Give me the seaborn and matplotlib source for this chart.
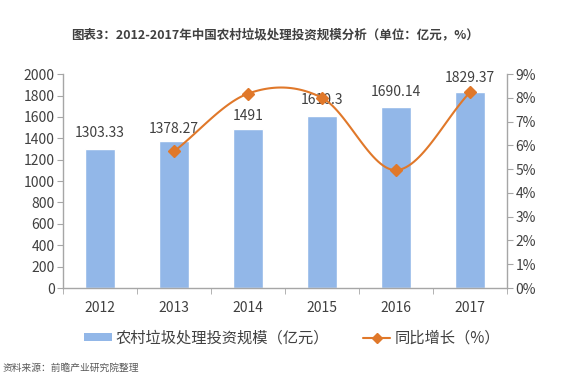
import numpy as np
import pandas as pd
import matplotlib
matplotlib.use('Agg')
import matplotlib.pyplot as plt
import seaborn as sns
from matplotlib.lines import Line2D
from matplotlib.patches import Patch

# data
years = ['2012', '2013', '2014', '2015', '2016', '2017']
invest = [1303.33, 1378.27, 1491, 1610.3, 1690.14, 1829.37]
growth_years = ['2013', '2014', '2015', '2016', '2017']
growth = [5.75, 8.18, 8.00, 4.96, 8.24]

title = '图表3：2012-2017年中国农村垃圾处理投资规模分析（单位：亿元，%）'
bar_name = '农村垃圾处理投资规模（亿元）'
line_name = '同比增长（%）'
source = '资料来源：前瞻产业研究院整理'

sns.set_style('white')
plt.rcParams['font.family'] = ['Noto Sans CJK SC', 'DejaVu Sans']

bar_color = '#92b7e8'
line_color = '#e0782a'
axis_color = '#a6a6a6'
text_color = '#404040'

df = pd.DataFrame({'year': years, 'invest': invest})

fig = plt.figure(figsize=(5.64, 3.84), dpi=100)
ax = fig.add_axes([0.112, 0.25, 0.787, 0.557])

sns.barplot(data=df, x='year', y='invest', color=bar_color, width=0.4,
            saturation=1, ax=ax)
ax.set_ylim(0, 2000)
ax.set_yticks(range(0, 2001, 200))
ax.set_xlabel('')
ax.set_ylabel('')

# value labels (offset in points above bar top)
label_off = [6, 3, 4, 6, 6, 5]
for i, v in enumerate(invest):
    ax.annotate(f'{v:g}', (i, v), xytext=(0, label_off[i]), textcoords='offset points',
                ha='center', va='bottom', fontsize=10, color=text_color)

# growth line on right axis, drawn smooth like the excel chart
ax2 = ax.twinx()
xs = np.array([years.index(y) for y in growth_years], dtype=float)
ys = np.array(growth)
# catmull-rom smoothing between the points
px = np.concatenate([[2 * xs[0] - xs[1]], xs, [2 * xs[-1] - xs[-2]]])
py = np.concatenate([[2 * ys[0] - ys[1]], ys, [2 * ys[-1] - ys[-2]]])
sx, sy = [], []
t = np.linspace(0, 1, 30)
for k in range(1, len(px) - 2):
    for arr, out in ((px, sx), (py, sy)):
        p0, p1, p2, p3 = arr[k - 1], arr[k], arr[k + 1], arr[k + 2]
        out.extend(0.5 * ((2 * p1) + (-p0 + p2) * t + (2 * p0 - 5 * p1 + 4 * p2 - p3) * t ** 2
                          + (-p0 + 3 * p1 - 3 * p2 + p3) * t ** 3))
ax2.plot(sx, sy, color=line_color, lw=1.5, zorder=3)
ax2.plot(xs, ys, ls='none', marker='D', ms=6, color=line_color, zorder=4)
ax2.set_ylim(0, 9)
ax2.set_yticks(range(0, 10))
ax2.set_yticklabels([f'{i}%' for i in range(0, 10)])

for a in (ax, ax2):
    for s in a.spines.values():
        s.set_visible(False)
    a.grid(False)
ax.spines['left'].set_visible(True)
ax.spines['bottom'].set_visible(True)
ax2.spines['right'].set_visible(True)
for s in (ax.spines['left'], ax.spines['bottom'], ax2.spines['right']):
    s.set_color(axis_color)
    s.set_linewidth(1)

ax.set_xlim(-0.5, 5.5)
ax.set_xticks(np.arange(-0.5, 6, 1), minor=True)
ax.tick_params(axis='y', direction='out', length=4, color=axis_color, labelsize=10,
               labelcolor=text_color, pad=2, left=True)
ax.tick_params(axis='x', which='major', length=0, labelsize=10, labelcolor=text_color, pad=9)
ax.tick_params(axis='x', which='minor', direction='out', length=4, color=axis_color,
               bottom=True)
ax2.tick_params(axis='y', direction='out', length=4, color=axis_color, labelsize=10,
                labelcolor=text_color, pad=2, right=True)

fig.text(0.488, 0.909, title, ha='center', va='center', fontsize=9,
         fontweight='bold', color='#404040')

handles = [Patch(facecolor=bar_color, edgecolor='none'),
           Line2D([0], [0], color=line_color, lw=1.5, marker='D', ms=5)]
fig.legend(handles, [bar_name, line_name], loc='center', bbox_to_anchor=(0.518, 0.12),
           ncol=2, frameon=False, fontsize=11, handlelength=1.8, handleheight=0.45,
           handletextpad=0.25, columnspacing=2.2, labelcolor=text_color)

fig.text(0.005, 0.043, source, ha='left', va='center', fontsize=7, style='italic',
         color='#595959')

fig.savefig('out.png', dpi=100)
